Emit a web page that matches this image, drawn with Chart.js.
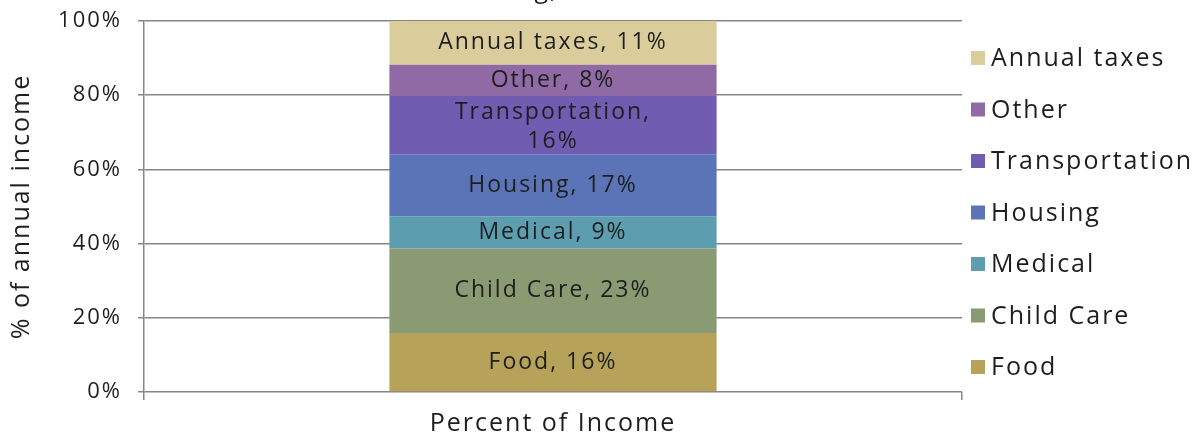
<!DOCTYPE html>
<html>
<head>
<meta charset="utf-8">
<script src="https://cdn.jsdelivr.net/npm/chart.js@4/dist/chart.umd.min.js"></script>
<style>
    html, body { margin: 0; padding: 0; background: #fff; }
    #wrap { width: 1199px; height: 436px; }
</style>
</head>
<body>
<div id="wrap"><canvas id="chart"></canvas></div>
<script>
const categories = ['Percent of Income'];
const seriesNames = ['Food', 'Child Care', 'Medical', 'Housing', 'Transportation', 'Other', 'Annual taxes'];
// segment heights as measured on the bar (share of the full column)
const seriesShares = [15.9, 22.8, 8.7, 16.7, 15.7, 8.4, 11.8];
// the percentages printed on the segments
const labelPercents = [16, 23, 9, 17, 16, 8, 11];
const seriesColors = ['#B6A259', '#8A9A73', '#5C9DB0', '#5A74B7', '#705CB0', '#8F6AA5', '#DACD9B'];
const yTicks = ['0%', '20%', '40%', '60%', '80%', '100%'];

const fontFamily = '"Open Sans", sans-serif';
const textColor = '#1e1e1e';
const gridColor = '#868686';
const spacing = '2px';

// the original face is wider than anything installed, so spread the letters
const wideText = {
    id: 'wideText',
    beforeUpdate(chart) { chart.ctx.letterSpacing = spacing; },
    beforeLayout(chart) { chart.ctx.letterSpacing = spacing; },
    beforeDraw(chart) { chart.ctx.letterSpacing = spacing; },
};

// labels inside each stacked segment, wrapped when too wide
const segmentLabels = {
    id: 'segmentLabels',
    afterDatasetsDraw(chart) {
        const ctx = chart.ctx;
        ctx.save();
        ctx.letterSpacing = spacing;
        ctx.font = `23px ${fontFamily}`;
        ctx.fillStyle = textColor;
        ctx.textAlign = 'center';
        ctx.textBaseline = 'middle';
        chart.data.datasets.forEach((ds, i) => {
            const bar = chart.getDatasetMeta(i).data[0];
            if (!bar) return;
            const pct = labelPercents[i];
            const full = `${ds.label}, ${pct}%`;
            const cy = (bar.y + bar.base) / 2;
            if (ctx.measureText(full).width > bar.width * 0.75) {
                ctx.fillText(`${ds.label},`, bar.x, cy - 13);
                ctx.fillText(`${pct}%`, bar.x, cy + 16);
            } else {
                ctx.fillText(full, bar.x, cy);
            }
        });
        ctx.restore();
    },
};

// legend on the right, top item = last series
const sideLegend = {
    id: 'sideLegend',
    afterDraw(chart) {
        const ctx = chart.ctx;
        const x0 = chart.chartArea.right + 9;
        ctx.save();
        ctx.letterSpacing = spacing;
        ctx.font = `25px ${fontFamily}`;
        ctx.textAlign = 'left';
        ctx.textBaseline = 'middle';
        const items = chart.data.datasets.slice().reverse();
        items.forEach((ds, i) => {
            const cy = 58 + i * 51.5;
            ctx.fillStyle = ds.backgroundColor;
            ctx.fillRect(x0, cy - 7, 14, 14);
            ctx.fillStyle = textColor;
            ctx.fillText(ds.label, x0 + 20, cy + 1);
        });
        ctx.restore();
    },
};

// the title sits mostly above the picture; only its descenders show
const clippedTitle = {
    id: 'clippedTitle',
    afterDraw(chart) {
        const ctx = chart.ctx;
        ctx.save();
        ctx.letterSpacing = spacing;
        ctx.font = `25px ${fontFamily}`;
        ctx.fillStyle = textColor;
        ctx.textAlign = 'left';
        ctx.textBaseline = 'alphabetic';
        const head = 'Cost of Child Rearing';
        const x = 550 - ctx.measureText(head).width;
        ctx.fillText(head + ', 2012', x, -2);
        ctx.restore();
    },
};

new Chart(document.getElementById('chart'), {
    type: 'bar',
    data: {
        labels: categories,
        datasets: seriesNames.map((name, i) => ({
            label: name,
            data: [seriesShares[i]],
            backgroundColor: seriesColors[i],
            borderWidth: 0,
            barPercentage: 0.4,
            categoryPercentage: 1,
        })),
    },
    options: {
        responsive: true,
        maintainAspectRatio: false,
        animation: false,
        layout: { padding: { top: 0, left: 4, right: 237, bottom: 0 } },
        plugins: {
            legend: { display: false },
            tooltip: { enabled: false },
        },
        scales: {
            x: {
                stacked: true,
                afterFit: (scale) => { scale.height = 44; },
                grid: {
                    offset: true,
                    drawOnChartArea: false,
                    drawTicks: true,
                    tickLength: 8,
                    color: gridColor,
                    lineWidth: 1.5,
                },
                border: { display: false },
                ticks: {
                    color: textColor,
                    font: { family: fontFamily, size: 25, lineHeight: 1.1 },
                    padding: 10,
                },
            },
            y: {
                stacked: true,
                min: 0,
                max: 100,
                afterFit: (scale) => {
                    scale.width = 140;
                    scale.paddingTop = 21;
                    scale.paddingBottom = 0;
                },
                grid: {
                    color: gridColor,
                    lineWidth: 1.5,
                    tickLength: 6,
                },
                border: { display: true, color: gridColor, width: 1.5 },
                ticks: {
                    stepSize: 20,
                    color: textColor,
                    padding: 16,
                    font: { family: fontFamily, size: 22 },
                    callback: (v) => yTicks[v / 20],
                },
                title: {
                    display: true,
                    text: '% of annual income',
                    color: textColor,
                    font: { family: fontFamily, size: 25, lineHeight: 1.2 },
                    padding: { top: 3, bottom: 0 },
                },
            },
        },
    },
    plugins: [wideText, segmentLabels, sideLegend, clippedTitle],
});
</script>
</body>
</html>
